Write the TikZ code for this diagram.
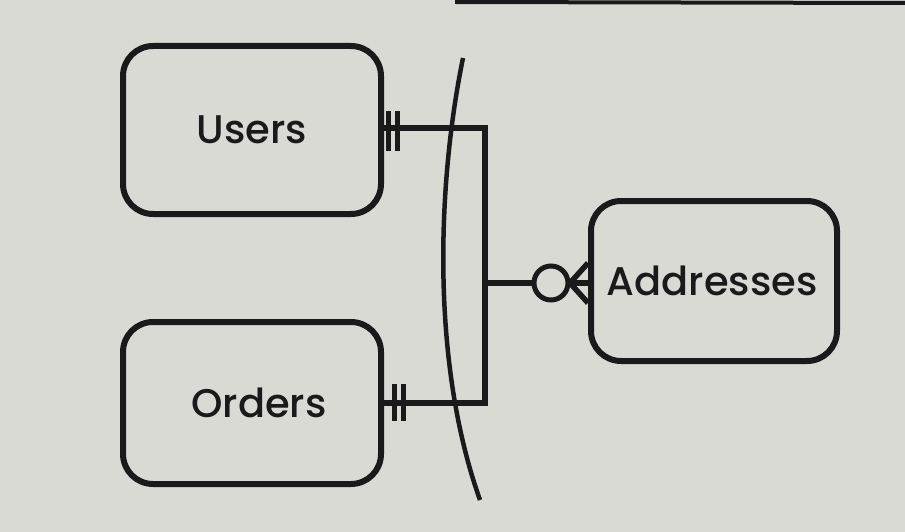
\documentclass[tikz,border=0pt]{standalone}
\usepackage{fontspec}
\setmainfont{Poppins}[BoldFont={Poppins Medium}]
\definecolor{paper}{HTML}{DADAD5}
\definecolor{ink}{HTML}{1A1A1A}
\tikzset{
  entity/.style={draw=ink, line width=6pt, rounded corners=30pt, inner sep=0pt, font=\fontsize{40}{40}\selectfont\bfseries, text=ink},
  rel/.style={draw=ink, line width=5.5pt},
  bar/.style={draw=ink, line width=5pt},
}
\begin{document}
\begin{tikzpicture}[x=1pt,y=-1pt]
\fill[paper] (0,0) rectangle (905,532);
\useasboundingbox (0,0) rectangle (905,532);
\draw[ink, line width=4pt] (455,2) -- (905,3);
% entities
\node[entity, minimum width=258pt, minimum height=168pt] (users) at (252,130) {Users};
\node[entity, minimum width=258pt, minimum height=162pt] (orders) at (252,403) {\hspace{14pt}Orders};
\node[entity, minimum width=246pt, minimum height=160pt] (addr) at (714,281) {\hspace{-4pt}Addresses};
% junction coordinates
\coordinate (j1) at (485,128);
\coordinate (j2) at (485,403);
\coordinate (jm) at (485,283);
\node[draw=ink, line width=5pt, circle, minimum size=34pt, inner sep=0pt] (circ) at (551,283) {};
\coordinate (apex) at (570,283);
% connectors
\draw[rel] (users.east |- j1) -- (j1) -- (j2) -- (orders.east |- j2);
\draw[rel] (jm) -- (circ.west);
\draw[rel] (circ.east) -- (addr.west |- jm);
\draw[rel] (apex) -- (addr.west |- 0,263);
\draw[rel] (apex) -- (addr.west |- 0,303);
% mandatory-one bars
\draw[bar] (388,111) -- (388,151);
\draw[bar] (397,111) -- (397,151);
\draw[bar] (394,384) -- (394,421);
\draw[bar] (403,384) -- (403,421);
% arc
\coordinate (a1) at (463,58);
\coordinate (a2) at (480,500);
\draw[ink, line width=4.5pt] (a1) .. controls (438,180) and (430,360) .. (a2);
\end{tikzpicture}
\end{document}
